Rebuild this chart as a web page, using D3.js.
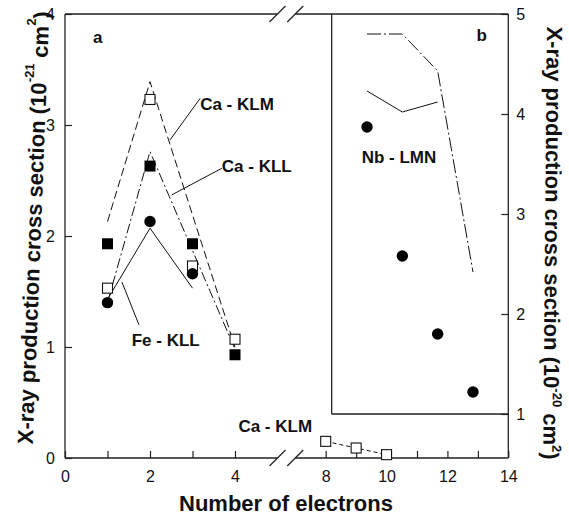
<!DOCTYPE html>
<html>
<head>
<meta charset="utf-8">
<script src="https://cdn.jsdelivr.net/npm/d3@7"></script>
<style>
  body { margin: 0; background: #fff; }
  svg { font-family: "Liberation Sans", Arial, sans-serif; }
</style>
</head>
<body>
<svg id="chart" width="569" height="522"></svg>
<script>
// panel a, low electron numbers
const electronsA = [1, 2, 3, 4];
const feKLL = [1.40, 2.13, 1.66];
const caKLL = [1.93, 2.63, 1.93, 0.93];
const caKLM = [1.53, 3.23, 1.73, 1.07];
const feKLLCalc = [1.43, 2.07, 1.53];
const caKLLCalc = [1.40, 2.76, 1.87, 0.98];
const caKLMCalc = [2.13, 3.39, 2.19, 1.00];

// panel a, after the axis break
const electronsHigh = [8, 9, 10];
const caKLMHigh = [0.15, 0.09, 0.03];

// panel b (right axis)
const electronsB = [1, 2, 3, 4];
const nbLMN = [3.87, 2.58, 1.80, 1.22];
const nbLMNCalcSolid = [4.23, 4.02, 4.12];
const nbLMNCalcDash = [4.80, 4.80, 4.43, 2.42];

const leftTicks = [0, 1, 2, 3, 4];
const rightTicks = [1, 2, 3, 4, 5];
const bottomTicksA = [0, 1, 2, 3, 4];
const bottomTicksB = [8, 9, 10, 11, 12, 13, 14];

const svg = d3.select("#chart");
const axisColor = "#222";

// scales
const xL = d3.scaleLinear().domain([0, 4]).range([65, 235]);
const xR = d3.scaleLinear().domain([8, 14]).range([325.7, 508.3]);
const xB = d3.scaleLinear().domain([0, 5]).range([331.7, 508.3]);
const yL = d3.scaleLinear().domain([0, 4]).range([458, 14]);
const yR = d3.scaleLinear().domain([1, 5]).range([414, 14]);

const x0 = xL(0), x1 = xR(14), yTop = yL(4), yBot = yL(0);
const breakA = xL(5), breakB = xR(7);

// frame lines with break on top and bottom
const frame = svg.append("g")
    .attr("stroke", axisColor)
    .attr("stroke-width", 1.3)
    .attr("fill", "none");

[yTop, yBot].forEach(y => {
    frame.append("line").attr("x1", x0).attr("x2", breakA).attr("y1", y).attr("y2", y);
    frame.append("line").attr("x1", breakB).attr("x2", x1).attr("y1", y).attr("y2", y);
    [breakA, breakB].forEach(bx => {
        frame.append("line")
            .attr("x1", bx - 8).attr("y1", y + 8)
            .attr("x2", bx + 8).attr("y2", y - 8);
    });
});
frame.append("line").attr("x1", x0).attr("x2", x0).attr("y1", yTop).attr("y2", yBot);
frame.append("line").attr("x1", x1).attr("x2", x1).attr("y1", yTop).attr("y2", yBot);

// panel b box
frame.append("line").attr("x1", xB(0)).attr("x2", xB(0)).attr("y1", yTop).attr("y2", yR(1));
frame.append("line").attr("x1", xB(0)).attr("x2", x1).attr("y1", yR(1)).attr("y2", yR(1));

// axes
function styleAxis(g) {
    g.select(".domain").remove();
    g.selectAll("line").attr("stroke", axisColor).attr("stroke-width", 1.2);
    g.selectAll("text")
        .attr("fill", "#111")
        .style("font-size", "16px")
        .style("font-family", "Liberation Sans, Arial, sans-serif");
}

svg.append("g")
    .attr("transform", `translate(${x0},0)`)
    .call(d3.axisLeft(yL).tickValues(leftTicks).tickSizeInner(-7).tickSizeOuter(0).tickPadding(10).tickFormat(d3.format("d")))
    .call(styleAxis);

svg.append("g")
    .attr("transform", `translate(${x1},0)`)
    .call(d3.axisRight(yR).tickValues(rightTicks).tickSizeInner(-7).tickSizeOuter(0).tickPadding(8).tickFormat(d3.format("d")))
    .call(styleAxis);

svg.append("g")
    .attr("transform", `translate(0,${yBot})`)
    .call(d3.axisBottom(xL).tickValues(bottomTicksA).tickSizeInner(-7).tickSizeOuter(0).tickPadding(13)
        .tickFormat(d => d % 2 === 0 ? d : ""))
    .call(styleAxis);

svg.append("g")
    .attr("transform", `translate(0,${yBot})`)
    .call(d3.axisBottom(xR).tickValues(bottomTicksB).tickSizeInner(-7).tickSizeOuter(0).tickPadding(13)
        .tickFormat(d => d % 2 === 0 ? d : ""))
    .call(styleAxis);

// lines
function drawLine(xs, ys, xScale, yScale, dash) {
    const pts = ys.map((v, i) => [xScale(xs[i]), yScale(v)]);
    svg.append("path")
        .attr("d", d3.line()(pts))
        .attr("fill", "none")
        .attr("stroke", "#111")
        .attr("stroke-width", 1)
        .attr("stroke-dasharray", dash);
}

drawLine(electronsA, feKLLCalc, xL, yL, null);
drawLine(electronsA, caKLLCalc, xL, yL, "10,3,2,3");
drawLine(electronsA, caKLMCalc, xL, yL, "8,4");
drawLine(electronsHigh, caKLMHigh, xR, yL, "4,3");
drawLine(electronsB, nbLMNCalcSolid, xB, yR, null);
drawLine(electronsB, nbLMNCalcDash, xB, yR, "14,3,2,3");

// markers
function circles(xs, ys, xScale, yScale) {
    svg.append("g").selectAll("circle")
        .data(ys)
        .enter().append("circle")
        .attr("cx", (d, i) => xScale(xs[i]))
        .attr("cy", d => yScale(d))
        .attr("r", 5.7)
        .attr("fill", "#000");
}

function squares(xs, ys, xScale, yScale, filled) {
    const s = filled ? 11 : 10;
    svg.append("g").selectAll("rect")
        .data(ys)
        .enter().append("rect")
        .attr("x", (d, i) => xScale(xs[i]) - s / 2)
        .attr("y", d => yScale(d) - s / 2)
        .attr("width", s)
        .attr("height", s)
        .attr("fill", filled ? "#000" : "#fff")
        .attr("stroke", filled ? "none" : "#111")
        .attr("stroke-width", 1.1);
}

squares(electronsA, caKLM, xL, yL, false);
squares(electronsA, caKLL, xL, yL, true);
circles(electronsA, feKLL, xL, yL);
squares(electronsHigh, caKLMHigh, xR, yL, false);
circles(electronsB, nbLMN, xB, yR);

// leader lines
const leaders = [
    [[2.47, 2.865], [3.18, 3.24]],
    [[2.51, 2.37], [3.69, 2.61]],
    [[1.34, 1.585], [1.74, 1.20]]
];
leaders.forEach(l => {
    svg.append("line")
        .attr("x1", xL(l[0][0])).attr("y1", yL(l[0][1]))
        .attr("x2", xL(l[1][0])).attr("y2", yL(l[1][1]))
        .attr("stroke", "#111")
        .attr("stroke-width", 1);
});

// labels
function label(x, y, txt) {
    svg.append("text")
        .attr("x", x)
        .attr("y", y)
        .text(txt)
        .style("font-size", "17px")
        .style("font-weight", "bold")
        .attr("fill", "#111");
}

label(xL(3.18), yL(3.135), "Ca - KLM");
label(xL(3.69), yL(2.58), "Ca - KLL");
label(xL(1.57), yL(1.013), "Fe - KLL");
label(xL(4.08), yL(0.237), "Ca - KLM");
label(xB(0.85), yR(3.51), "Nb - LMN");
label(xL(0.66), yL(3.74), "a");
label(xB(4.1), yR(4.73), "b");

// axis titles (scan is slightly tilted)
function axisTitle(transform, exp, raise) {
    const t = svg.append("text")
        .attr("transform", transform)
        .attr("text-anchor", "middle")
        .style("font-size", "22px")
        .style("font-weight", "bold")
        .attr("fill", "#111");
    t.append("tspan").text("X-ray production cross section (10");
    t.append("tspan").attr("dy", -raise).style("font-size", "13px").text(exp);
    t.append("tspan").attr("dy", raise).text(" cm");
    t.append("tspan").attr("dy", -raise).style("font-size", "13px").text("2");
    t.append("tspan").attr("dy", raise).text(")");
}

axisTitle("translate(41,228) rotate(-87.8)", "-21", 13);
axisTitle("translate(545,243) rotate(90.5)", "-20", 9);

svg.append("text")
    .attr("x", 286)
    .attr("y", 511)
    .attr("text-anchor", "middle")
    .style("font-size", "22px")
    .style("font-weight", "bold")
    .attr("fill", "#111")
    .text("Number of electrons");
</script>
</body>
</html>
